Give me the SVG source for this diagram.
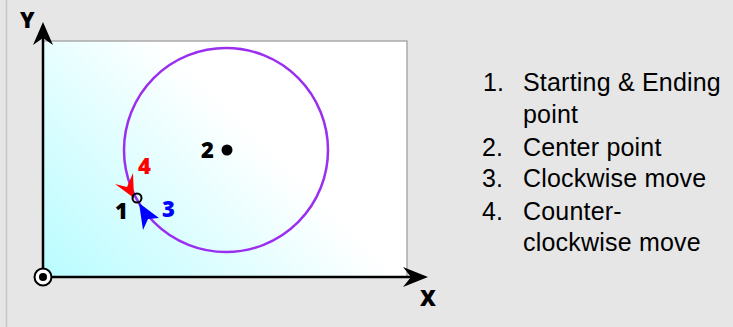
<svg xmlns="http://www.w3.org/2000/svg" width="733" height="327" viewBox="0 0 733 327">
<style>
.lbl{font-family:"Open Sans","Liberation Sans",sans-serif;font-weight:800;font-size:22px}
.list{font-family:"Liberation Sans",Arial,sans-serif;font-size:25px;letter-spacing:0.2px;fill:#000}
.axis{stroke:#000;stroke-width:2.5;fill:none}
</style>
<defs>
<linearGradient id="bg" gradientUnits="userSpaceOnUse" x1="43" y1="277" x2="220" y2="100">
<stop offset="0" stop-color="#b8fcff"/>
<stop offset="1" stop-color="#ffffff"/>
</linearGradient>
</defs>
<rect x="0" y="0" width="733" height="327" fill="#e6e6e6"/>
<line x1="6.5" y1="0" x2="6.5" y2="327" stroke="#c8c8c8" stroke-width="1.5"/>
<g id="plane">
<rect x="43" y="41" width="364" height="236" fill="url(#bg)" stroke="#aaaaaa" stroke-width="1.5"/>
</g>
<g id="connectors">
<line class="axis" x1="43" y1="277" x2="43" y2="36"/>
<polygon points="43,22 53,45 43,38 33,45" fill="#000"/>
<line class="axis" x1="43" y1="277" x2="414" y2="277"/>
<polygon points="428,277 403,287 411,277 403,267" fill="#000"/>
<circle cx="226" cy="150" r="102" fill="none" stroke="#9b2ff0" stroke-width="2.5"/>
</g>
<g id="origin">
<circle cx="43" cy="277" r="8.5" fill="#fff" stroke="#000" stroke-width="2"/>
<circle cx="43" cy="277" r="4" fill="#000"/>
</g>
<g id="axis-labels">
<text class="lbl" x="20" y="28">Y</text>
<text class="lbl" x="420" y="306">X</text>
</g>
<g id="p2">
<circle cx="227" cy="150" r="5.5" fill="#000"/>
<text class="lbl" x="201" y="158">2</text>
</g>
<g id="p4">
<polygon points="134,198 115,184 127,187 133,173" fill="#ff0000"/>
<text class="lbl" x="138" y="174" fill="#ff0000">4</text>
</g>
<g id="p3">
<polygon points="139,203 159,218 148,219 143,230" fill="#0000ff"/>
<text class="lbl" x="162" y="217" fill="#0000ff">3</text>
</g>
<g id="p1">
<circle cx="137" cy="198" r="4.5" fill="none" stroke="#000" stroke-width="2"/>
<text class="lbl" x="115" y="219">1</text>
</g>
<g id="legend">
<text class="list" x="483" y="91">1.</text>
<text class="list" x="523" y="91">Starting &amp; Ending</text>
<text class="list" x="523" y="123">point</text>
<text class="list" x="482" y="156">2.</text>
<text class="list" x="523" y="156">Center point</text>
<text class="list" x="482" y="187">3.</text>
<text class="list" x="523" y="187">Clockwise move</text>
<text class="list" x="482" y="220">4.</text>
<text class="list" x="523" y="220">Counter-</text>
<text class="list" x="523" y="251">clockwise move</text>
</g>
</svg>
